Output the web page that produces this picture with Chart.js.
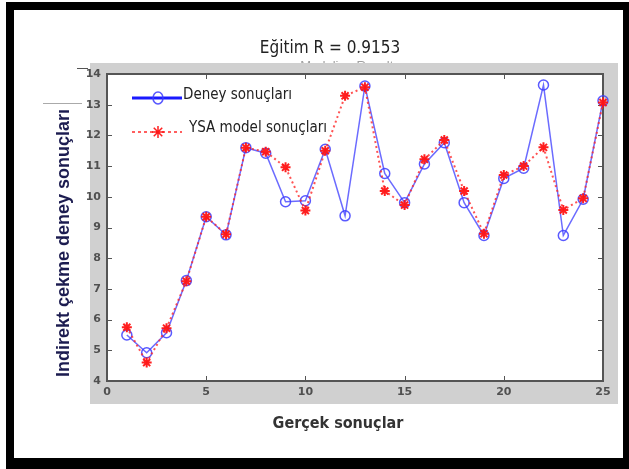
<!DOCTYPE html>
<html>
<head>
<meta charset="utf-8">
<script src="https://cdn.jsdelivr.net/npm/chart.js@4.4.1/dist/chart.umd.min.js"></script>
<style>
  html, body { margin: 0; padding: 0; background: #fff; }
  #wrap { width: 629px; height: 469px; }
</style>
</head>
<body>
<div id="wrap"><canvas id="myChart" width="629" height="469"></canvas></div>
<script>
// sample index 1..25
const xValues = [1, 2, 3, 4, 5, 6, 7, 8, 9, 10, 11, 12, 13, 14, 15, 16, 17, 18, 19, 20, 21, 22, 23, 24, 25];
// measured (Deney) and network output (YSA)
const deney = [5.50, 4.92, 5.57, 7.27, 9.35, 8.76, 11.60, 11.42, 9.84, 9.87, 11.55, 9.38, 13.61,
               10.76, 9.81, 11.07, 11.76, 9.81, 8.74, 10.60, 10.93, 13.64, 8.74, 9.92, 13.13];
const ysa = [5.75, 4.60, 5.72, 7.25, 9.35, 8.78, 11.60, 11.47, 10.96, 9.55, 11.50, 13.29, 13.57,
             10.19, 9.73, 11.22, 11.85, 10.19, 8.80, 10.71, 11.00, 11.61, 9.57, 9.95, 13.07];
const seriesNames = ['Deney sonuçları', 'YSA model sonuçları'];
const xTicks = [0, 5, 10, 15, 20, 25];
const yTicks = [4, 5, 6, 7, 8, 9, 10, 11, 12, 13, 14];

const titleText = 'Eğitim R = 0.9153';
const hiddenTitle = 'Modeling Results';
const xTitle = 'Gerçek sonuçlar';
const yTitle = 'Indirekt çekme deney sonuçları';

const toPoints = (ys) => xValues.map((x, i) => ({ x: x, y: ys[i] }));

// frame, grey panel, inward ticks, legend and labels
const figureDecor = {
    id: 'figureDecor',
    beforeDraw(chart) {
        const ctx = chart.ctx;
        const a = chart.chartArea;
        ctx.save();
        ctx.fillStyle = '#fff';
        ctx.fillRect(0, 0, chart.width, chart.height);
        ctx.fillStyle = '#000';
        ctx.fillRect(6, 2, 623, 467);
        ctx.fillStyle = '#fff';
        ctx.fillRect(14, 10, 609, 448);

        // old title, mostly covered by the panel
        ctx.fillStyle = '#a0a0a0';
        ctx.font = '13px "Liberation Sans"';
        ctx.textAlign = 'center';
        ctx.textBaseline = 'alphabetic';
        ctx.fillText(hiddenTitle, 350, 70);

        ctx.fillStyle = '#d0d0d0';
        ctx.fillRect(90, 63, 528, 341);
        ctx.fillStyle = '#fff';
        ctx.fillRect(a.left, a.top, a.right - a.left, a.bottom - a.top);
        ctx.restore();
    },
    beforeDatasetsDraw(chart) {
        const ctx = chart.ctx;
        const a = chart.chartArea;
        const xs = chart.scales.x, ys = chart.scales.y;
        ctx.save();
        ctx.strokeStyle = '#555';
        ctx.lineWidth = 2;
        ctx.strokeRect(a.left, a.top, a.right - a.left, a.bottom - a.top);
        ctx.lineWidth = 1;
        ctx.beginPath();
        xs.ticks.forEach(t => {
            const px = Math.round(xs.getPixelForValue(t.value)) + 0.5;
            ctx.moveTo(px, a.bottom); ctx.lineTo(px, a.bottom - 5);
            ctx.moveTo(px, a.top); ctx.lineTo(px, a.top + 5);
        });
        ys.ticks.forEach(t => {
            const py = Math.round(ys.getPixelForValue(t.value)) + 0.5;
            ctx.moveTo(a.left, py); ctx.lineTo(a.left + 5, py);
            ctx.moveTo(a.right, py); ctx.lineTo(a.right - 5, py);
        });
        ctx.stroke();
        ctx.restore();
    },
    afterDraw(chart) {
        const ctx = chart.ctx;
        ctx.save();

        // legend
        const rows = [{ y: 98, ty: 95, tx: 183 }, { y: 132, ty: 128, tx: 189 }];
        chart.data.datasets.forEach((ds, i) => {
            const r = rows[i];
            ctx.strokeStyle = ds.legendColor;
            ctx.lineWidth = i === 0 ? 3 : 1.5;
            ctx.setLineDash(i === 0 ? [] : [3, 3]);
            ctx.beginPath();
            ctx.moveTo(132, r.y); ctx.lineTo(182, r.y);
            ctx.stroke();
            ctx.setLineDash([]);
            ctx.lineWidth = 1.5;
            ctx.strokeStyle = ds.pointBorderColor;
            if (i === 0) {
                ctx.beginPath();
                ctx.ellipse(158, r.y, 5, 6, 0, 0, Math.PI * 2);
                ctx.stroke();
            } else {
                ctx.beginPath();
                for (let k = 0; k < 4; k++) {
                    const ang = k * Math.PI / 4;
                    ctx.moveTo(158 - 6 * Math.cos(ang), r.y - 6 * Math.sin(ang));
                    ctx.lineTo(158 + 6 * Math.cos(ang), r.y + 6 * Math.sin(ang));
                }
                ctx.stroke();
            }
            ctx.fillStyle = '#222';
            ctx.font = '15px "DejaVu Sans Condensed"';
            ctx.textAlign = 'left';
            ctx.textBaseline = 'middle';
            ctx.fillText(ds.label, r.tx, r.ty);
        });

        // title
        ctx.fillStyle = '#222';
        ctx.font = '17px "DejaVu Sans Condensed"';
        ctx.textAlign = 'center';
        ctx.textBaseline = 'middle';
        ctx.fillText(titleText, 330, 49);

        // x axis title
        ctx.fillStyle = '#333';
        ctx.font = 'bold 16px "DejaVu Sans Condensed"';
        ctx.fillText(xTitle, 338, 424);

        // y axis title
        ctx.save();
        ctx.translate(64, 243);
        ctx.rotate(-Math.PI / 2);
        ctx.fillStyle = '#1c1c50';
        ctx.font = 'bold 18px "Liberation Sans"';
        ctx.fillText(yTitle, 0, 0);
        ctx.restore();

        // stray scan marks at the upper left
        ctx.strokeStyle = '#555';
        ctx.lineWidth = 1;
        ctx.beginPath();
        ctx.moveTo(77, 68.5); ctx.lineTo(88, 68.5);
        ctx.stroke();
        ctx.strokeStyle = '#aaa';
        ctx.beginPath();
        ctx.moveTo(43, 103.5); ctx.lineTo(82, 103.5);
        ctx.stroke();
        ctx.restore();
    }
};

const ctx = document.getElementById('myChart').getContext('2d');
const myChart = new Chart(ctx, {
    type: 'line',
    data: {
        datasets: [{
            label: seriesNames[0],
            data: toPoints(deney),
            borderColor: 'rgba(70, 70, 255, 0.8)',
            borderWidth: 1.5,
            pointStyle: 'circle',
            pointRadius: 5,
            pointBorderWidth: 1.5,
            pointBorderColor: 'rgba(60, 60, 255, 0.85)',
            pointBackgroundColor: 'rgba(0, 0, 0, 0)',
            legendColor: '#1a1aff',
            tension: 0,
            clip: false,
            order: 2
        }, {
            label: seriesNames[1],
            data: toPoints(ysa),
            borderColor: 'rgba(255, 40, 40, 0.8)',
            borderWidth: 2,
            borderDash: [2, 3],
            pointStyle: 'star',
            pointRadius: 5,
            pointBorderWidth: 2,
            pointBorderColor: 'rgba(255, 20, 20, 0.95)',
            pointBackgroundColor: 'rgba(255, 20, 20, 0.95)',
            legendColor: '#ff2a2a',
            tension: 0,
            clip: false,
            order: 1
        }]
    },
    options: {
        responsive: false,
        animation: false,
        layout: { padding: { left: 0, right: 26, top: 74, bottom: 0 } },
        plugins: {
            legend: { display: false },
            title: { display: false },
            tooltip: { enabled: false }
        },
        scales: {
            x: {
                type: 'linear',
                min: 0,
                max: 25,
                afterFit: (s) => { s.height = 88; },
                afterBuildTicks: (s) => { s.ticks = xTicks.map(v => ({ value: v })); },
                grid: { display: false, drawTicks: false },
                border: { display: false },
                ticks: {
                    padding: 5,
                    color: '#505050',
                    font: { family: '"DejaVu Sans"', size: 11, weight: 'bold' },
                    maxRotation: 0
                }
            },
            y: {
                min: 4,
                max: 14,
                afterFit: (s) => { s.width = 107; },
                afterBuildTicks: (s) => { s.ticks = yTicks.map(v => ({ value: v })); },
                grid: { display: false, drawTicks: false },
                border: { display: false },
                ticks: {
                    padding: 6,
                    color: '#505050',
                    font: { family: '"DejaVu Sans"', size: 11, weight: 'bold' }
                }
            }
        }
    },
    plugins: [figureDecor]
});
</script>
</body>
</html>
